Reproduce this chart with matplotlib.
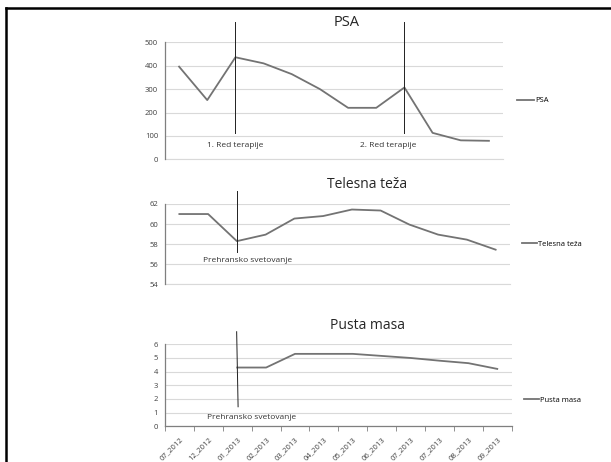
import matplotlib
matplotlib.use("Agg")
import matplotlib.pyplot as plt
from matplotlib.lines import Line2D
import numpy as np

plt.rcParams['font.family'] = ['Open Sans', 'DejaVu Sans']

categories = ["07_2012", "12_2012", "01_2013", "02_2013", "03_2013", "04_2013",
              "05_2013", "06_2013", "07_2013", "07_2013", "08_2013", "09_2013"]
psa = [396, 253, 436, 410, 364, 300, 220, 220, 307, 113, 81, 79]
telesna = [61.0, 61.0, 58.3, 58.95, 60.55, 60.8, 61.45, 61.35, 59.95, 58.95, 58.45, 57.45]
pusta = [np.nan, np.nan, 4.3, 4.3, 5.3, 5.3, 5.3, 5.15, 5.0, 4.8, 4.62, 4.2]

W, H = 611, 462
fig = plt.figure(figsize=(W / 100, H / 100), dpi=100)

def px_axes(left, top, right, bottom):
    return fig.add_axes([left / W, 1 - bottom / H, (right - left) / W, (bottom - top) / H])

LINE_C = '#737373'
GRID_C = '#d9d9d9'
SPINE_C = '#7f7f7f'
TXT_C = '#333333'
x = np.arange(len(categories))

def style(ax, ylim, yticks, show_x=False):
    ax.set_xlim(-0.5, len(categories) - 0.5)
    ax.set_ylim(*ylim)
    ax.set_yticks(yticks)
    ax.tick_params(axis='y', length=0, pad=5, labelsize=5.5, colors='#404040')
    ax.grid(axis='y', color=GRID_C, lw=0.8)
    ax.set_axisbelow(True)
    for s in ['top', 'right']:
        ax.spines[s].set_visible(False)
    ax.spines['left'].set_color(SPINE_C)
    ax.spines['left'].set_linewidth(0.9)
    if show_x:
        ax.spines['bottom'].set_color(SPINE_C)
        ax.spines['bottom'].set_linewidth(0.9)
        ax.set_xticks(np.arange(-0.5, len(categories)), minor=False)
        ax.set_xticklabels([])
        ax.tick_params(axis='x', which='major', length=3.5, color=SPINE_C, width=0.6)
        ax.set_xticks(x, minor=True)
        ax.set_xticklabels(categories, minor=True, rotation=45, ha='right',
                           rotation_mode='anchor', fontsize=5.5, color='#404040')
        ax.tick_params(axis='x', which='minor', length=0, pad=7)
    else:
        ax.spines['bottom'].set_visible(False)
        ax.set_xticks([])
        ax.axhline(ylim[0], color=GRID_C, lw=0.8, zorder=0, clip_on=False)

# PSA
ax1 = px_axes(165, 42.3, 503, 159.3)
style(ax1, (0, 500), range(0, 501, 100))
ax1.plot(x, psa, color=LINE_C, lw=1.3, label='PSA')
psa_marks = [2, 8]
for m in psa_marks:
    ax1.plot([m, m], [587, 112], color='#202020', lw=0.7, clip_on=False)
ax1.text(2.0, 57, "1. Red terapije", ha='center', va='center', fontsize=6, color=TXT_C)
ax1.text(7.42, 57, "2. Red terapije", ha='center', va='center', fontsize=6, color=TXT_C)
fig.text(347 / W, 1 - 23 / H, "PSA", ha='center', va='center', fontsize=10.5, color='#262626')
ax1.legend(loc='center left', bbox_to_anchor=(517 / W, 1 - 100.7 / H),
           bbox_transform=fig.transFigure, frameon=False, fontsize=5.5,
           handlelength=2.2, handletextpad=0.15, borderpad=0, borderaxespad=0)

# Telesna teza
ax2 = px_axes(165, 204, 510, 284.3)
style(ax2, (54, 62), range(54, 63, 2))
ax2.plot(x, telesna, color=LINE_C, lw=1.3, label='Telesna teža')
ax2.plot([2, 2], [63.3, 57.23], color='#202020', lw=0.7, clip_on=False)
ax2.text(2.37, 56.33, "Prehransko svetovanje", ha='center', va='center', fontsize=6, color=TXT_C)
fig.text(366.7 / W, 1 - 185 / H, "Telesna teža", ha='center', va='center', fontsize=10, color='#262626')
ax2.legend(loc='center left', bbox_to_anchor=(521.7 / W, 1 - 244.3 / H),
           bbox_transform=fig.transFigure, frameon=False, fontsize=5.5,
           handlelength=2.0, handletextpad=0.15, borderpad=0, borderaxespad=0)

# Pusta masa
ax3 = px_axes(165, 344.3, 511.7, 426.3)
style(ax3, (0, 6), range(0, 7), show_x=True)
ax3.plot(x, pusta, color=LINE_C, lw=1.3, label='Pusta masa')
ax3.plot([1.98, 2.03], [6.92, 1.43], color='#202020', lw=0.7, clip_on=False)
ax3.text(2.51, 0.66, "Prehransko svetovanje", ha='center', va='center', fontsize=6, color=TXT_C)
fig.text(368 / W, 1 - 325.7 / H, "Pusta masa", ha='center', va='center', fontsize=10, color='#262626')
ax3.legend(loc='center left', bbox_to_anchor=(524 / W, 1 - 400 / H),
           bbox_transform=fig.transFigure, frameon=False, fontsize=5.5,
           handlelength=2.0, handletextpad=0.15, borderpad=0, borderaxespad=0)

# outer frame (left and top edges)
fig.add_artist(Line2D([6 / W, 6 / W], [0, 1 - 8 / H], transform=fig.transFigure, color='black', lw=1.8))
fig.add_artist(Line2D([6 / W, 1], [1 - 8 / H, 1 - 8 / H], transform=fig.transFigure, color='black', lw=1.8))

fig.savefig("out.png", dpi=100)
